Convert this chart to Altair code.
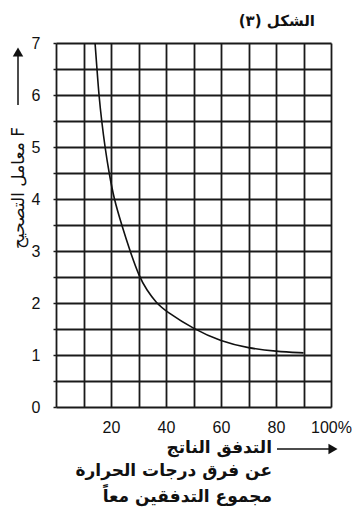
import altair as alt
import pandas as pd

# curve
flow_pct = [14.2, 14.9, 15.6, 16.6, 17.8, 19.3, 21.1, 23.9, 26.9, 30.3, 33.0, 36.5, 40, 50, 60, 70, 80, 90]
factor_f = [7.0, 6.5, 6.0, 5.5, 5.0, 4.5, 4.0, 3.5, 3.0, 2.5, 2.25, 2.0, 1.84, 1.5, 1.26, 1.13, 1.07, 1.04]

x_grid = [0, 10, 20, 30, 40, 50, 60, 70, 80, 90, 100]
y_grid = [i * 0.5 for i in range(15)]

title_txt = "الشكل (٣)"
y_title = "معامل التصحيح F"
x_title_lines = ["التدفق الناتج", "عن فرق درجات الحرارة", "مجموع التدفقين معاً"]

df = pd.DataFrame({"x": flow_pct, "F": factor_f})
one = pd.DataFrame({"a": [0]})

AR_FONT = "DejaVu Sans"

base = alt.Chart(df).mark_line(color="#111", strokeWidth=1.6, interpolate="basis").encode(
    x=alt.X("x:Q", scale=alt.Scale(domain=[0, 100], nice=False),
            axis=alt.Axis(values=x_grid, title=None, grid=True, domain=False, ticks=False,
                          labelFlush=False, labelOverlap=False,
                          labelExpr="datum.value % 20 == 0 && datum.value > 0 ? (datum.value == 100 ? '100%' : format(datum.value, 'd')) : ''",
                          labelPadding=12, labelFontSize=16, labelFont="Liberation Sans",
                          labelColor="#111", gridColor="#1a1a1a", gridWidth=1.8, gridOpacity=1)),
    y=alt.Y("F:Q", scale=alt.Scale(domain=[0, 7], nice=False),
            axis=alt.Axis(values=y_grid, title=None, grid=True, domain=False, ticks=True, tickSize=3,
                          tickColor="#1a1a1a", tickWidth=1.5, labelFlush=False, labelOverlap=False,
                          labelExpr="datum.value % 1 == 0 ? format(datum.value, 'd') : ''",
                          labelPadding=13, labelFontSize=16, labelFont="Liberation Sans",
                          labelColor="#111", gridColor="#1a1a1a", gridWidth=1.8, gridOpacity=1)),
)

def txt(s, x, y, size, bold=True, align="right"):
    return alt.Chart(one).mark_text(font=AR_FONT, fontSize=size, fontWeight="bold" if bold else "normal",
                                    align=align, baseline="middle", color="#111", dir="rtl").encode(
        x=alt.value(x), y=alt.value(y), text=alt.value(s))

title_layer = txt(title_txt, 259, -22, 15)
xt1 = txt(x_title_lines[0], 216, 405, 17)
xt2 = txt(x_title_lines[1], 216, 428, 17)
xt3 = txt(x_title_lines[2], 216, 454, 17)
yt = alt.Chart(one).mark_text(font=AR_FONT, fontSize=17, align="center", baseline="middle",
                              color="#111", angle=270).encode(
    x=alt.value(-37), y=alt.value(145), text=alt.value(y_title))

x_arrow = alt.Chart(one).mark_rule(color="#111", strokeWidth=1.5).encode(
    x=alt.value(221), x2=alt.value(276), y=alt.value(406))
x_head = alt.Chart(one).mark_point(shape="triangle-right", filled=True, size=110, color="#111", opacity=1).encode(
    x=alt.value(277), y=alt.value(406))
y_arrow = alt.Chart(one).mark_rule(color="#111", strokeWidth=1.5).encode(
    x=alt.value(-38), y=alt.value(10), y2=alt.value(62))
y_head = alt.Chart(one).mark_point(shape="triangle-up", filled=True, size=110, color="#111", opacity=1).encode(
    x=alt.value(-38), y=alt.value(9))

chart = alt.layer(base, title_layer, xt1, xt2, xt3, yt, x_arrow, x_head, y_arrow, y_head).properties(
    width=275, height=364,
    autosize=alt.AutoSizeParams(type="none"),
    padding={"left": 48, "top": 35, "right": 21, "bottom": 110},
).configure_view(stroke="#1a1a1a", strokeWidth=1.8).configure(background="white")

chart.save("out.html", embed_options={"renderer": "svg", "actions": False})
